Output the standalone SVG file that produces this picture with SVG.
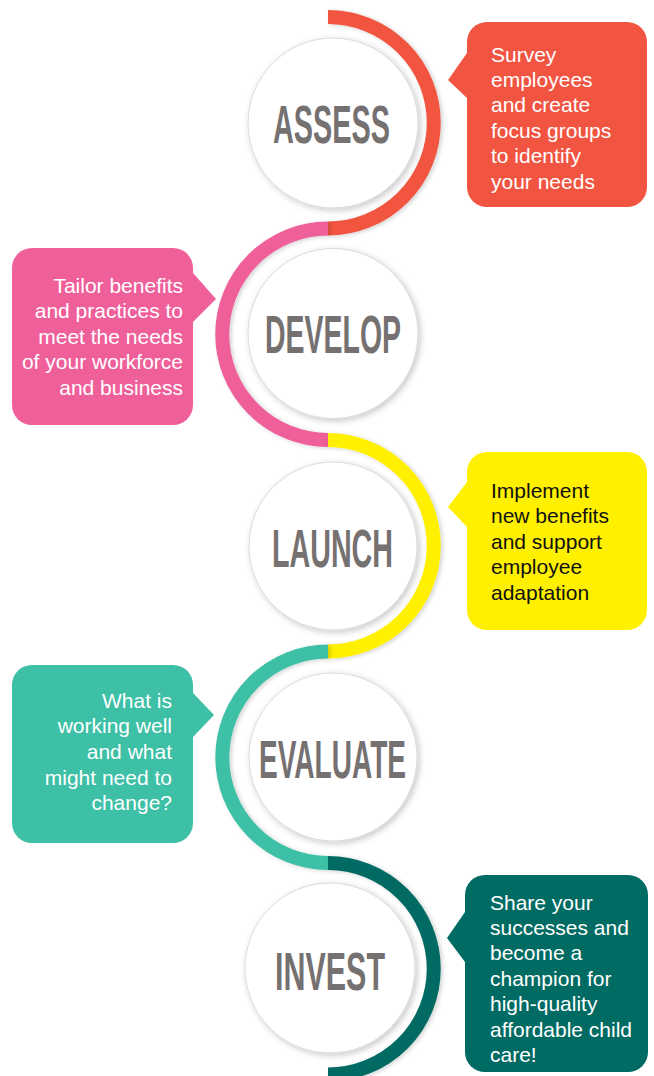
<svg xmlns="http://www.w3.org/2000/svg" width="654" height="1076" viewBox="0 0 654 1076">
<defs>
<filter id="sh" x="-20%" y="-20%" width="140%" height="140%">
<feDropShadow dx="2" dy="2" stdDeviation="3" flood-color="#000" flood-opacity="0.22"/>
</filter>
<filter id="ash" x="-20%" y="-20%" width="140%" height="140%">
<feDropShadow dx="2" dy="1" stdDeviation="2" flood-color="#000" flood-opacity="0.18"/>
</filter>
<style>
.arc{fill:none;stroke-width:14;filter:url(#ash)}
.ring{fill:#fff;stroke:#d9d9d9;stroke-width:1;filter:url(#sh)}
.lbl{font-family:"Liberation Sans",Arial,sans-serif;font-weight:bold;font-size:53px;fill:#767171}
.ct{font-family:"Liberation Sans",Arial,sans-serif;font-size:21px;fill:#fff}
.dark{fill:#111}
</style>
</defs>
<g id="connectors">
<path class="arc" stroke="#F15441" d="M328,17 A105.75,105.75 0 0 1 328,228.5"/>
<path class="arc" stroke="#EF5F9A" d="M328,228.5 A105.75,105.75 0 0 0 328,440"/>
<path class="arc" stroke="#FFF000" d="M328,440 A105.75,105.75 0 0 1 328,651.5"/>
<path class="arc" stroke="#3DC0A6" d="M328,651.5 A105.75,105.75 0 0 0 328,863"/>
<path class="arc" stroke="#006B63" d="M328,863 A105.75,105.75 0 0 1 328,1074.5"/>
</g>
<g id="assess">
<circle class="ring" cx="333" cy="123" r="85"/>
<text class="lbl" x="273" y="143" textLength="117" lengthAdjust="spacingAndGlyphs">ASSESS</text>
</g>
<g id="develop">
<circle class="ring" cx="333" cy="333.5" r="85"/>
<text class="lbl" x="265" y="353" textLength="136" lengthAdjust="spacingAndGlyphs">DEVELOP</text>
</g>
<g id="launch">
<circle class="ring" cx="333" cy="546" r="84"/>
<text class="lbl" x="272" y="567" textLength="121" lengthAdjust="spacingAndGlyphs">LAUNCH</text>
</g>
<g id="evaluate">
<circle class="ring" cx="333" cy="757" r="84"/>
<text class="lbl" x="259" y="778" textLength="147" lengthAdjust="spacingAndGlyphs">EVALUATE</text>
</g>
<g id="invest">
<circle class="ring" cx="330" cy="968" r="85"/>
<text class="lbl" x="275" y="990" textLength="110" lengthAdjust="spacingAndGlyphs">INVEST</text>
</g>
<g id="callout-assess">
<rect x="467" y="22" width="180" height="185" rx="20" fill="#F15441"/>
<polygon points="467,53 448,80 467,98" fill="#F15441"/>
<text class="ct"><tspan x="491" y="62">Survey</tspan><tspan x="491" y="87">employees</tspan><tspan x="491" y="112">and create</tspan><tspan x="491" y="138">focus groups</tspan><tspan x="491" y="163">to identify</tspan><tspan x="491" y="189">your needs</tspan></text>
</g>
<g id="callout-develop">
<rect x="12" y="248" width="181" height="177" rx="20" fill="#EF5F9A"/>
<polygon points="193,273 216,299 193,322" fill="#EF5F9A"/>
<text class="ct" text-anchor="end"><tspan x="183" y="293">Tailor benefits</tspan><tspan x="183" y="318">and practices to</tspan><tspan x="183" y="344">meet the needs</tspan><tspan x="183" y="369">of your workforce</tspan><tspan x="183" y="395">and business</tspan></text>
</g>
<g id="callout-launch">
<rect x="467" y="452" width="180" height="178" rx="20" fill="#FFF000"/>
<polygon points="467,482 448,507 467,527" fill="#FFF000"/>
<text class="ct dark"><tspan x="491" y="498">Implement</tspan><tspan x="491" y="523">new benefits</tspan><tspan x="491" y="549">and support</tspan><tspan x="491" y="574">employee</tspan><tspan x="491" y="600">adaptation</tspan></text>
</g>
<g id="callout-evaluate">
<rect x="12" y="665" width="181" height="178" rx="20" fill="#3DC0A6"/>
<polygon points="193,693 214,715 193,737" fill="#3DC0A6"/>
<text class="ct" text-anchor="end"><tspan x="172" y="708">What is</tspan><tspan x="172" y="733">working well</tspan><tspan x="172" y="759">and what</tspan><tspan x="172" y="785">might need to</tspan><tspan x="172" y="810">change?</tspan></text>
</g>
<g id="callout-invest">
<rect x="465" y="875" width="183" height="197" rx="20" fill="#006B63"/>
<polygon points="465,912 447,938 465,962" fill="#006B63"/>
<text class="ct"><tspan x="490" y="910">Share your</tspan><tspan x="490" y="935">successes and</tspan><tspan x="490" y="960">become a</tspan><tspan x="490" y="986">champion for</tspan><tspan x="490" y="1011">high-quality</tspan><tspan x="490" y="1037">affordable child</tspan><tspan x="490" y="1062">care!</tspan></text>
</g>
</svg>
